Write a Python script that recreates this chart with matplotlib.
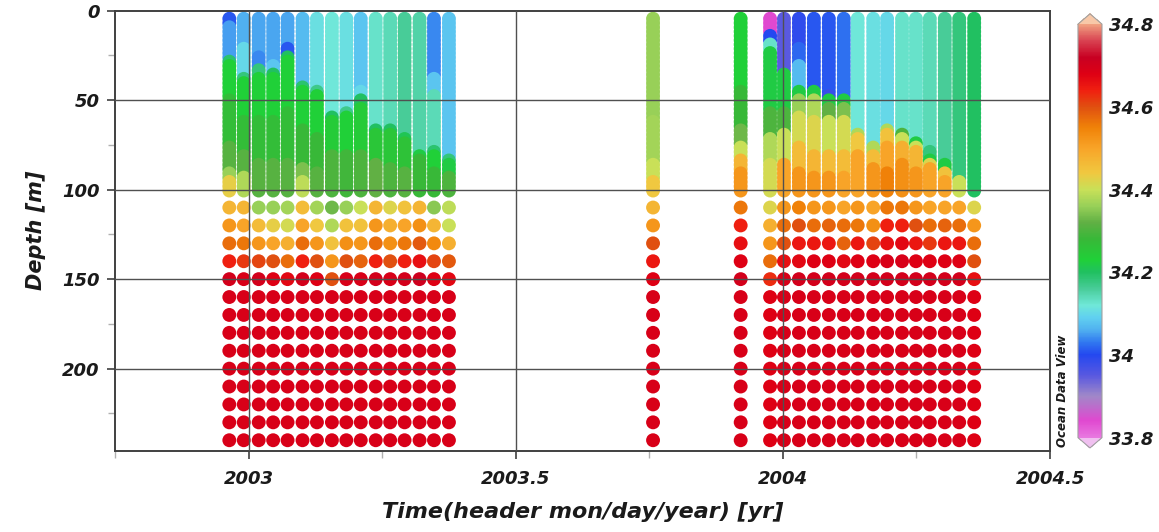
import numpy as np
import matplotlib
matplotlib.use('Agg')
import matplotlib.pyplot as plt
from matplotlib.colors import LinearSegmentedColormap, Normalize
from matplotlib.ticker import MultipleLocator

# ---------------- data ----------------
# station times (decimal years): 16 early-2003 casts, 2 autumn casts, 15 early-2004 casts
times = [2002.964, 2002.991, 2003.019, 2003.046, 2003.073, 2003.101, 2003.128, 2003.156,
         2003.183, 2003.210, 2003.238, 2003.265, 2003.292, 2003.320, 2003.347, 2003.375,
         2003.757, 2003.921,
         2003.976, 2004.002, 2004.030, 2004.058, 2004.086, 2004.114, 2004.140, 2004.169,
         2004.195, 2004.223, 2004.249, 2004.275, 2004.303, 2004.330, 2004.358]

# upper 0-100 m profiles, as layers: (layer bottom depth [m], salinity)
upper_profiles = [
    [(8, 34.01), (27, 34.05), (30, 34.19), (50, 34.23), (75, 34.27), (90, 34.31), (95, 34.36), (101, 34.43)],
    [(20, 34.06), (36, 34.10), (40, 34.18), (60, 34.23), (80, 34.27), (92, 34.31), (101, 34.38)],
    [(24, 34.055), (32, 34.04), (37, 34.18), (60, 34.23), (85, 34.27), (101, 34.31)],
    [(30, 34.055), (35, 34.08), (38, 34.20), (60, 34.23), (85, 34.27), (101, 34.31)],
    [(20, 34.055), (24, 34.01), (28, 34.20), (55, 34.23), (85, 34.27), (101, 34.31)],
    [(42, 34.07), (45, 34.19), (65, 34.23), (88, 34.28), (95, 34.34), (101, 34.39)],
    [(44, 34.11), (47, 34.17), (70, 34.23), (90, 34.28), (101, 34.31)],
    [(59, 34.12), (62, 34.20), (80, 34.24), (101, 34.30)],
    [(56, 34.11), (58, 34.17), (80, 34.23), (101, 34.29)],
    [(44, 34.08), (50, 34.10), (53, 34.20), (80, 34.24), (101, 34.30)],
    [(66, 34.13), (69, 34.20), (85, 34.25), (101, 34.32)],
    [(66, 34.14), (69, 34.20), (88, 34.25), (101, 34.30)],
    [(71, 34.16), (74, 34.21), (90, 34.26), (101, 34.31)],
    [(80, 34.15), (83, 34.22), (101, 34.28)],
    [(38, 34.04), (47, 34.08), (77, 34.14), (80, 34.19), (90, 34.23), (101, 34.28)],
    [(82, 34.08), (85, 34.18), (92, 34.22), (101, 34.30)],
    # autumn casts
    [(60, 34.36), (85, 34.37), (95, 34.40), (101, 34.44)],
    [(45, 34.23), (65, 34.28), (75, 34.33), (83, 34.40), (90, 34.47), (101, 34.52)],
    # 2004 casts
    [(14, 33.84), (17, 34.00), (23, 34.13), (55, 34.22), (70, 34.30), (85, 34.38), (101, 34.41)],
    [(34, 33.95), (56, 34.22), (68, 34.30), (84, 34.40), (101, 34.50)],
    [(20, 33.99), (30, 34.02), (44, 34.07), (48, 34.22), (58, 34.36), (75, 34.41), (90, 34.46), (101, 34.52)],
    [(44, 34.01), (48, 34.22), (60, 34.38), (80, 34.42), (92, 34.47), (101, 34.52)],
    [(46, 34.01), (49, 33.98), (53, 34.22), (62, 34.32), (80, 34.40), (92, 34.46), (101, 34.52)],
    [(50, 34.025), (54, 34.22), (62, 34.34), (80, 34.41), (92, 34.46), (101, 34.50)],
    [(67, 34.12), (70, 34.38), (80, 34.44), (101, 34.50)],
    [(76, 34.11), (80, 34.38), (88, 34.46), (101, 34.52)],
    [(66, 34.10), (69, 34.38), (75, 34.45), (90, 34.50), (101, 34.55)],
    [(68, 34.13), (71, 34.30), (75, 34.40), (85, 34.48), (101, 34.53)],
    [(72, 34.13), (75, 34.22), (78, 34.40), (90, 34.47), (101, 34.52)],
    [(78, 34.14), (82, 34.18), (85, 34.22), (88, 34.42), (101, 34.50)],
    [(86, 34.16), (90, 34.22), (95, 34.45), (101, 34.50)],
    [(94, 34.18), (101, 34.40)],
    [(101, 34.20)],
]

# deeper samples, one value per station
sal_110 = [34.47, 34.47, 34.36, 34.36, 34.37, 34.46, 34.37, 34.33, 34.36, 34.40, 34.47, 34.42, 34.45, 34.47, 34.35, 34.39,
           34.47, 34.56,
           34.42, 34.52, 34.55, 34.52, 34.52, 34.50, 34.52, 34.50, 34.56, 34.56, 34.52, 34.50, 34.50, 34.50, 34.42]
sal_120 = [34.52, 34.50, 34.46, 34.43, 34.41, 34.50, 34.44, 34.38, 34.45, 34.45, 34.52, 34.48, 34.50, 34.53, 34.47, 34.40,
           34.52, 34.64,
           34.48, 34.57, 34.60, 34.57, 34.58, 34.57, 34.56, 34.53, 34.64, 34.64, 34.60, 34.57, 34.58, 34.57, 34.52]
sal_130 = [34.57, 34.56, 34.52, 34.50, 34.48, 34.57, 34.52, 34.45, 34.53, 34.52, 34.57, 34.53, 34.56, 34.59, 34.54, 34.48,
           34.60, 34.66,
           34.52, 34.60, 34.65, 34.65, 34.65, 34.58, 34.65, 34.61, 34.66, 34.67, 34.65, 34.62, 34.65, 34.65, 34.57]
sal_140 = [34.64, 34.62, 34.61, 34.60, 34.57, 34.64, 34.60, 34.52, 34.60, 34.58, 34.64, 34.60, 34.64, 34.66, 34.61, 34.59,
           34.65, 34.68,
           34.57, 34.66, 34.67, 34.68, 34.68, 34.67, 34.68, 34.68, 34.69, 34.69, 34.68, 34.68, 34.68, 34.68, 34.60]
sal_150 = [34.70, 34.69, 34.70, 34.68, 34.67, 34.70, 34.68, 34.60, 34.69, 34.69, 34.70, 34.69, 34.70, 34.71, 34.68, 34.67,
           34.68, 34.70,
           34.63, 34.69, 34.70, 34.70, 34.70, 34.70, 34.70, 34.70, 34.70, 34.70, 34.70, 34.70, 34.70, 34.70, 34.66]
# 160-240 m (uniform deep water per station)
sal_deep = [34.69] * 16 + [34.69, 34.69] + [34.68] + [34.69] * 13 + [34.68]

deep_depths = [110, 120, 130, 140, 150]
tail_depths = [160, 170, 180, 190, 200, 210, 220, 230, 240]
upper_depths = np.arange(4.5, 101, 2.4)

# ---------------- build point list ----------------
xs, ys, cs = [], [], []
for i, t in enumerate(times):
    for d in upper_depths:
        for bottom, val in upper_profiles[i]:
            if d <= bottom:
                xs.append(t); ys.append(d); cs.append(val)
                break
    for d, row in zip(deep_depths, [sal_110, sal_120, sal_130, sal_140, sal_150]):
        xs.append(t); ys.append(d); cs.append(row[i])
    for d in tail_depths:
        xs.append(t); ys.append(d); cs.append(sal_deep[i])

# ---------------- colormap (ODV-like) ----------------
anchors = [
    (33.80, '#e878e0'), (33.84, '#e048d0'), (33.90, '#a088c8'), (33.95, '#5858e0'),
    (34.00, '#2448f0'), (34.03, '#3078f0'), (34.06, '#50b0f0'), (34.09, '#60d0f0'),
    (34.12, '#70e8d8'), (34.16, '#48cc98'), (34.20, '#20c060'), (34.23, '#20d038'),
    (34.28, '#38b838'), (34.32, '#60b044'), (34.36, '#98d058'), (34.40, '#c8e058'),
    (34.44, '#f0c840'), (34.50, '#f8a428'), (34.55, '#f08208'), (34.60, '#e05010'),
    (34.64, '#f02010'), (34.68, '#de0014'), (34.72, '#c80022'), (34.76, '#d84050'),
    (34.80, '#f0a080'),
]
vmin, vmax = 33.8, 34.8
cmap = LinearSegmentedColormap.from_list(
    'odv', [((v - vmin) / (vmax - vmin), c) for v, c in anchors], N=512)
cmap.set_over('#f8c8a8')
cmap.set_under('#f0c0f0')
norm = Normalize(vmin=vmin, vmax=vmax)

# ---------------- figure ----------------
plt.rcParams['font.family'] = ['DejaVu Sans']
fig = plt.figure(figsize=(11.59, 5.32), dpi=100)
ax = fig.add_axes([0.0992, 0.1523, 0.8068, 0.8277])

sc = ax.scatter(xs, ys, c=cs, cmap=cmap, norm=norm, s=100, edgecolors='none', zorder=2)

ax.set_xlim(2002.75, 2004.5)
ax.set_ylim(246, 0)

gridc = '#505050'
for gx in [2003, 2003.5, 2004]:
    ax.axvline(gx, color=gridc, lw=1.0, zorder=3)
for gy in [50, 100, 150, 200]:
    ax.axhline(gy, color=gridc, lw=1.0, zorder=3)

for sp in ax.spines.values():
    sp.set_color('#404040')
    sp.set_linewidth(1.4)

ax.xaxis.set_minor_locator(MultipleLocator(0.25))
ax.yaxis.set_minor_locator(MultipleLocator(25))
ax.set_xticks([2003, 2003.5, 2004, 2004.5])
ax.set_xticklabels(['2003', '2003.5', '2004', '2004.5'])
ax.set_yticks([0, 50, 100, 150, 200])
ax.set_yticklabels(['0', '50', '100', '150', '200'])

ax.tick_params(axis='both', which='major', direction='out', length=6, width=1.2,
               color='#404040', labelsize=13)
ax.tick_params(axis='both', which='minor', direction='out', length=5, width=1.0,
               color='#b0b0b0')
ax.tick_params(axis='x', which='major', pad=8)
ax.tick_params(axis='y', which='major', pad=5)
for lab in ax.get_xticklabels() + ax.get_yticklabels():
    lab.set_fontweight('bold')
    lab.set_fontstyle('italic')
    lab.set_color('#1a1a1a')

ax.set_xlabel('Time(header mon/day/year) [yr]', fontsize=16, fontweight='bold',
              fontstyle='italic', color='#1a1a1a', labelpad=10)
ax.set_ylabel('Depth [m]', fontsize=15, fontweight='bold', fontstyle='italic',
              color='#1a1a1a', labelpad=12)

# colorbar
cax = fig.add_axes([0.9301, 0.158, 0.0207, 0.816])
cb = fig.colorbar(sc, cax=cax, extend='both', extendfrac=0.025)
cb.set_ticks([34.8, 34.6, 34.4, 34.2, 34.0, 33.8])
cb.set_ticklabels(['34.8', '34.6', '34.4', '34.2', '34', '33.8'])
cb.ax.tick_params(length=0, pad=5, labelsize=13)
for lab in cb.ax.get_yticklabels():
    lab.set_fontweight('bold')
    lab.set_fontstyle('italic')
    lab.set_color('#1a1a1a')
cb.outline.set_edgecolor('#a0a0a0')
cb.outline.set_linewidth(0.8)

fig.text(1063 / 1159, 1 - 447 / 532, 'Ocean Data View', rotation=90, ha='center', va='bottom',
         fontsize=8.5, fontweight='bold', fontstyle='italic', color='#1a1a1a')

fig.savefig('out.png', dpi=100)
